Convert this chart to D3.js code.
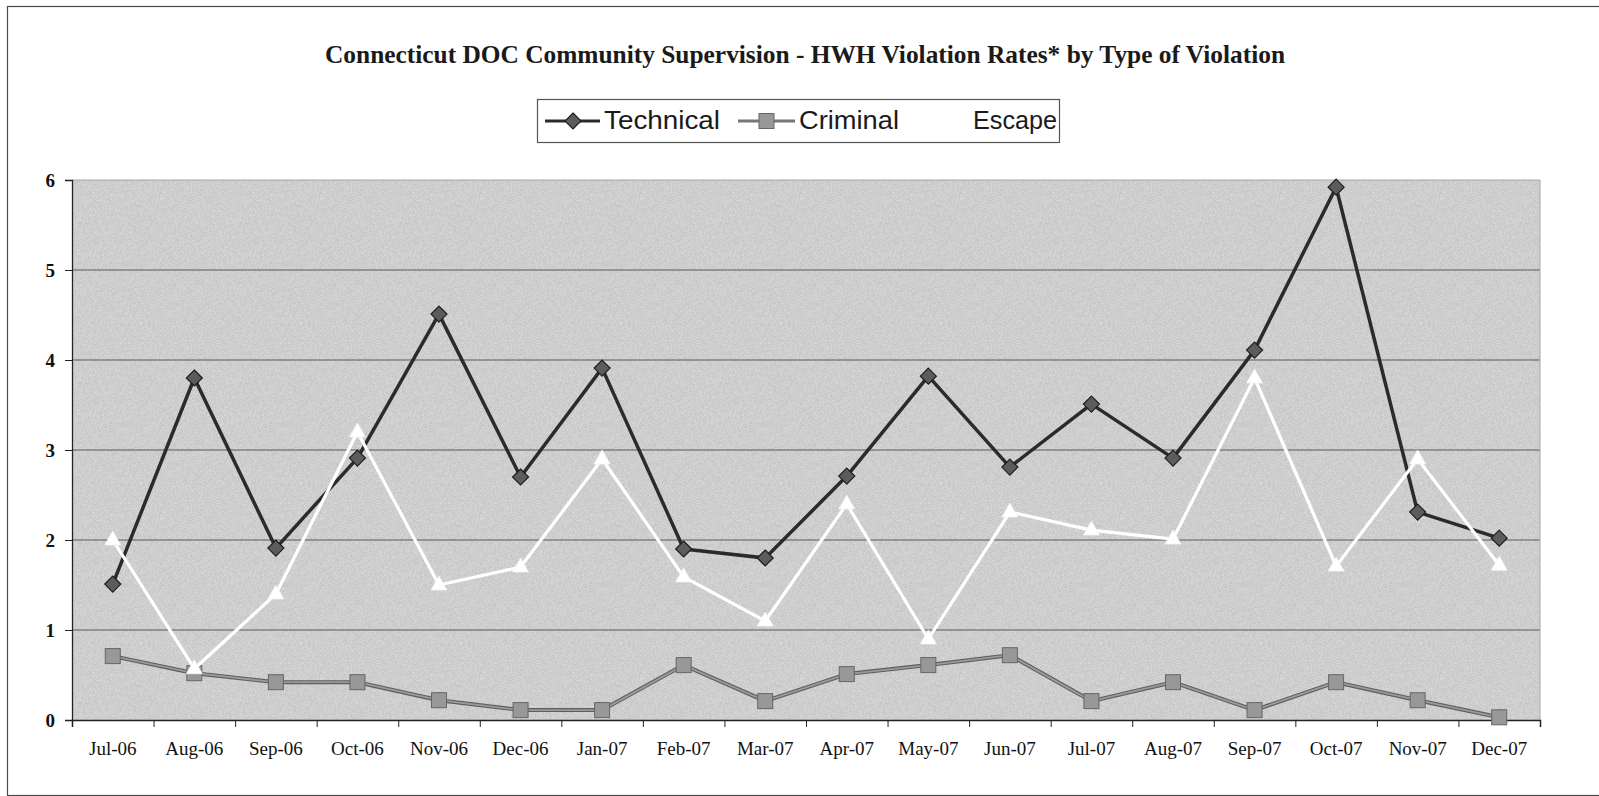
<!DOCTYPE html>
<html>
<head>
<meta charset="utf-8">
<script src="https://cdn.jsdelivr.net/npm/d3@7"></script>
<style>
  html, body { margin: 0; padding: 0; background: #fff; }
  svg { display: block; }
</style>
</head>
<body>
<svg id="chart" width="1599" height="796"></svg>
<script>
// ---- Data ----
const categories = ["Jul-06","Aug-06","Sep-06","Oct-06","Nov-06","Dec-06","Jan-07","Feb-07","Mar-07",
                    "Apr-07","May-07","Jun-07","Jul-07","Aug-07","Sep-07","Oct-07","Nov-07","Dec-07"];
const technical = [1.51, 3.80, 1.91, 2.91, 4.51, 2.70, 3.91, 1.90, 1.80, 2.71, 3.82, 2.81, 3.51, 2.91, 4.11, 5.92, 2.31, 2.02];
const criminal  = [0.71, 0.52, 0.42, 0.42, 0.22, 0.11, 0.11, 0.61, 0.21, 0.51, 0.61, 0.72, 0.21, 0.42, 0.11, 0.42, 0.22, 0.03];
const escape    = [2.00, 0.57, 1.40, 3.20, 1.50, 1.70, 2.90, 1.59, 1.10, 2.40, 0.90, 2.31, 2.11, 2.01, 3.80, 1.71, 2.90, 1.72];
const yTicks = [0, 1, 2, 3, 4, 5, 6];
const titleText = "Connecticut DOC Community Supervision - HWH Violation Rates* by Type of Violation";
const seriesNames = ["Technical", "Criminal", "Escape"];

// ---- Layout ----
const svg = d3.select("#chart");
const plot = { left: 72, right: 1540, top: 180, bottom: 720 };

const x = d3.scaleBand().domain(categories).range([plot.left, plot.right]).padding(0);
const xEdge = d3.scaleLinear().domain([0, categories.length]).range([plot.left, plot.right]);
const y = d3.scaleLinear().domain([0, 6]).range([plot.bottom, plot.top]);
const cx = c => x(c) + x.bandwidth() / 2;

// outer frame
svg.append("rect").attr("x", 7.5).attr("y", 6.5).attr("width", 1620).attr("height", 789)
  .attr("fill", "#fff").attr("stroke", "#4a4a4a").attr("stroke-width", 1.2);

// noise filter for scanned look
const defs = svg.append("defs");
const f = defs.append("filter").attr("id", "noise").attr("x", 0).attr("y", 0).attr("width", "100%").attr("height", "100%");
f.append("feTurbulence").attr("type", "fractalNoise").attr("baseFrequency", 1.6).attr("numOctaves", 1).attr("seed", 3).attr("result", "t");
f.append("feColorMatrix").attr("type", "matrix")
  .attr("values", "0 0 0 0 0  0 0 0 0 0  0 0 0 0 0  0 0 0 -1.2 0.9");

// plot background
svg.append("rect").attr("x", plot.left).attr("y", plot.top)
  .attr("width", plot.right - plot.left).attr("height", plot.bottom - plot.top)
  .attr("fill", "#dadada");
svg.append("rect").attr("x", plot.left).attr("y", plot.top)
  .attr("width", plot.right - plot.left).attr("height", plot.bottom - plot.top)
  .attr("filter", "url(#noise)").attr("opacity", 0.18);

// gridlines
svg.append("g").selectAll("line").data(yTicks.filter(d => d > 0)).join("line")
  .attr("x1", plot.left).attr("x2", plot.right)
  .attr("y1", d => y(d)).attr("y2", d => y(d))
  .attr("stroke", d => d === 6 ? "#a5a5a5" : "#5a5a5a").attr("stroke-width", 1);
// right border
svg.append("line").attr("x1", plot.right).attr("x2", plot.right).attr("y1", plot.top).attr("y2", plot.bottom)
  .attr("stroke", "#a8a8a8").attr("stroke-width", 1);

// y axis
const yAxis = d3.axisLeft(y).tickValues(yTicks).tickFormat(d3.format("d")).tickSize(7).tickPadding(10);
const gy = svg.append("g").attr("transform", `translate(${plot.left},0)`).call(yAxis);
gy.select(".domain").attr("stroke", "#222").attr("stroke-width", 1.3);
gy.selectAll(".tick line").attr("stroke", "#222");
gy.selectAll("text").attr("font-family", "'Liberation Serif', 'Times New Roman', serif")
  .attr("font-weight", "bold").attr("font-size", 19).attr("fill", "#111");

// x axis tick marks at category boundaries
const xTickAxis = d3.axisBottom(xEdge).tickValues(d3.range(0, categories.length + 1)).tickFormat("").tickSize(7);
const gxt = svg.append("g").attr("transform", `translate(0,${plot.bottom})`).call(xTickAxis);
gxt.select(".domain").attr("stroke", "#222").attr("stroke-width", 1.5);
gxt.selectAll(".tick line").attr("stroke", "#222");

// x labels
const xAxis = d3.axisBottom(x).tickSize(0).tickPadding(22);
const gx = svg.append("g").attr("transform", `translate(0,${plot.bottom})`).call(xAxis);
gx.select(".domain").remove();
gx.selectAll("text").attr("font-family", "'Liberation Serif', 'Times New Roman', serif")
  .attr("font-size", 19).attr("fill", "#111");

// line generator
const line = d3.line().x((d, i) => cx(categories[i])).y(d => y(d));

// Technical
svg.append("path").datum(technical).attr("d", line)
  .attr("fill", "none").attr("stroke", "#2b2b2b").attr("stroke-width", 3.5).attr("stroke-linejoin", "round");
svg.append("g").selectAll("path").data(technical).join("path")
  .attr("transform", (d, i) => `translate(${cx(categories[i])},${y(d)})`)
  .attr("d", "M0,-8L8,0L0,8L-8,0Z")
  .attr("fill", "#5c5c5c").attr("stroke", "#1e1e1e").attr("stroke-width", 1.2);

// Criminal
svg.append("path").datum(criminal).attr("d", line)
  .attr("fill", "none").attr("stroke", "#5e5e5e").attr("stroke-width", 4).attr("stroke-linejoin", "round");
svg.append("path").datum(criminal).attr("d", line)
  .attr("fill", "none").attr("stroke", "#9b9b9b").attr("stroke-width", 1.8).attr("stroke-linejoin", "round");
svg.append("g").selectAll("rect").data(criminal).join("rect")
  .attr("x", (d, i) => cx(categories[i]) - 7.5).attr("y", d => y(d) - 7.5)
  .attr("width", 15).attr("height", 15)
  .attr("fill", "#989898").attr("stroke", "#666").attr("stroke-width", 1);

// Escape
svg.append("path").datum(escape).attr("d", line)
  .attr("fill", "none").attr("stroke", "#ffffff").attr("stroke-width", 3.2).attr("stroke-linejoin", "round");
svg.append("g").selectAll("path").data(escape).join("path")
  .attr("transform", (d, i) => `translate(${cx(categories[i])},${y(d)})`)
  .attr("d", "M0,-9L8,5L-8,5Z")
  .attr("fill", "#ffffff").attr("stroke", "#f4f4f4").attr("stroke-width", 0.8);

// Title
svg.append("text").attr("x", 805).attr("y", 63).attr("text-anchor", "middle")
  .attr("font-family", "'Liberation Serif', 'Times New Roman', serif")
  .attr("font-weight", "bold").attr("font-size", 26).attr("fill", "#1a1a1a")
  .attr("textLength", 960).attr("lengthAdjust", "spacingAndGlyphs")
  .text(titleText);

// Legend
const lg = svg.append("g");
lg.append("rect").attr("x", 537.5).attr("y", 99.5).attr("width", 522).attr("height", 43)
  .attr("fill", "#fff").attr("stroke", "#555").attr("stroke-width", 1.2);
const legendItems = [
  { name: seriesNames[0], lx: 545, tx: 604, tw: 116 },
  { name: seriesNames[1], lx: 738, tx: 799, tw: 100 },
  { name: seriesNames[2], lx: 915, tx: 973, tw: 84 }
];
const ly = 121;
// technical
lg.append("line").attr("x1", legendItems[0].lx).attr("x2", legendItems[0].lx + 55).attr("y1", ly).attr("y2", ly)
  .attr("stroke", "#2b2b2b").attr("stroke-width", 3);
lg.append("path").attr("transform", `translate(${legendItems[0].lx + 28},${ly})`)
  .attr("d", "M0,-8L8,0L0,8L-8,0Z").attr("fill", "#5c5c5c").attr("stroke", "#1e1e1e").attr("stroke-width", 1.2);
// criminal
lg.append("line").attr("x1", legendItems[1].lx).attr("x2", legendItems[1].lx + 57).attr("y1", ly).attr("y2", ly)
  .attr("stroke", "#777").attr("stroke-width", 3);
lg.append("rect").attr("x", legendItems[1].lx + 21).attr("y", ly - 7.5).attr("width", 15).attr("height", 15)
  .attr("fill", "#989898").attr("stroke", "#666");
// escape (white, invisible on white)
lg.append("line").attr("x1", legendItems[2].lx).attr("x2", legendItems[2].lx + 55).attr("y1", ly).attr("y2", ly)
  .attr("stroke", "#fff").attr("stroke-width", 3);
lg.append("path").attr("transform", `translate(${legendItems[2].lx + 28},${ly})`)
  .attr("d", "M0,-9L8,5L-8,5Z").attr("fill", "#fff");
lg.selectAll("text.lt").data(legendItems).join("text").attr("class", "lt")
  .attr("x", d => d.tx).attr("y", 129)
  .attr("font-family", "'Liberation Sans', Arial, sans-serif").attr("font-size", 26).attr("fill", "#1a1a1a")
  .attr("textLength", d => d.tw).attr("lengthAdjust", "spacingAndGlyphs")
  .text(d => d.name);
</script>
</body>
</html>
